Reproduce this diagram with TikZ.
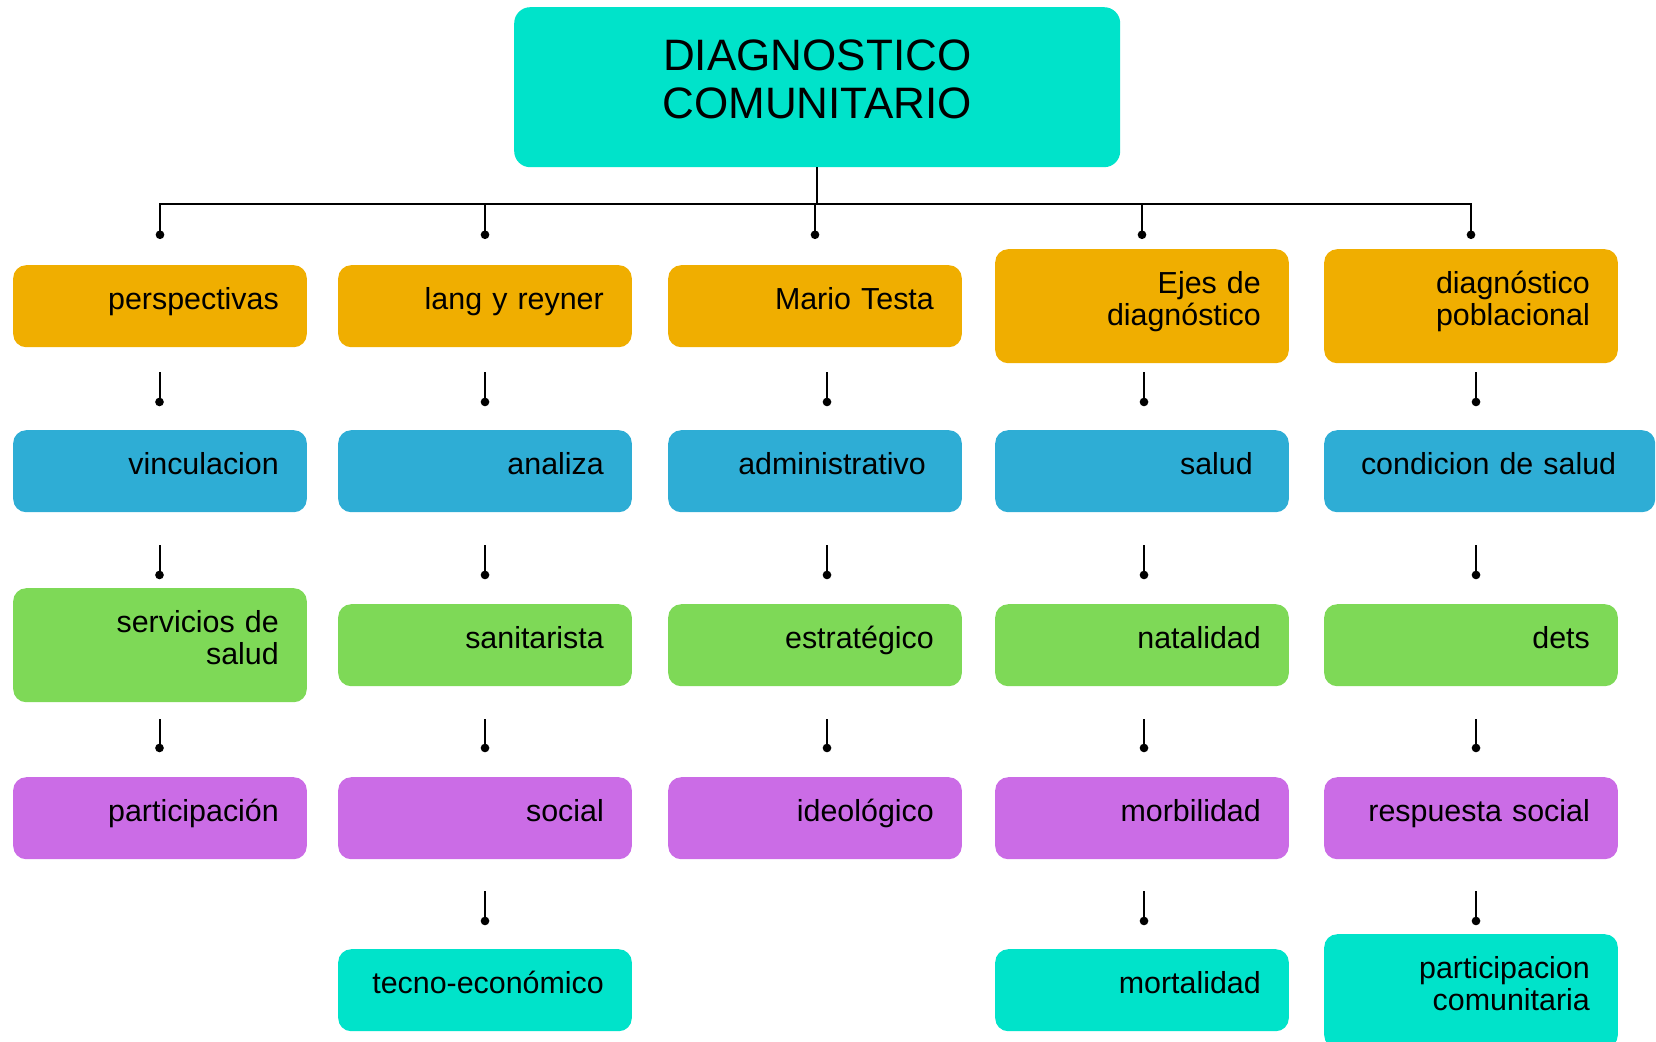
\documentclass[tikz,border=0pt]{standalone}
\usepackage{fontspec}
\setmainfont{Liberation Sans}
\usetikzlibrary{arrows.meta,calc}
\definecolor{corange}{HTML}{F0AE00}
\definecolor{cblue}{HTML}{2EADD5}
\definecolor{cgreen}{HTML}{7ED957}
\definecolor{cpurple}{HTML}{CB6CE6}
\definecolor{ccyan}{HTML}{00E3CA}
\tikzset{
  box/.style={rectangle, rounded corners=13pt, anchor=north west, inner xsep=28pt, inner ysep=0pt,
    minimum height=82pt, text width=237.6pt, align=right,
    font=\fontsize{30.4}{32}\selectfont, text height=22pt, text depth=16pt},
  tallbox/.style={box, minimum height=114pt, text depth=47pt},
  conn/.style={draw=black, line width=2pt, -{Circle[length=8.5pt,width=8.5pt]}},
}
\newcommand\linkdn[5]{\draw[conn, shorten <=#4, shorten >=#5] (#1.south -| #3) -- (#2.north -| #3);}
\begin{document}
\begin{tikzpicture}[x=1pt,y=-1pt]
\useasboundingbox (0,0) rectangle (1656,1041);
% title
\node[rectangle, rounded corners=16pt, fill=ccyan, anchor=north west, inner sep=0pt,
  minimum height=160pt, text width=606pt, align=center,
  font=\fontsize{44}{48}\selectfont, text height=31.5pt, text depth=65pt]
  (root) at (514,7) {DIAGNOSTICO\\COMUNITARIO};
% row 1
\node[box, fill=corange] (p1) at (13,265) {perspectivas};
\node[box, fill=corange] (p2) at (338,265) {lang y reyner};
\node[box, fill=corange] (p3) at (668,265) {Mario Testa};
\node[tallbox, fill=corange] (p4) at (995,249) {Ejes de\\diagnóstico};
\node[tallbox, fill=corange] (p5) at (1324,249) {diagnóstico\\poblacional};
% row 2
\node[box, fill=cblue] (b1) at (13,430) {vinculacion};
\node[box, fill=cblue] (b2) at (338,430) {analiza};
\node[box, fill=cblue] (b3) at (668,430) {administrativo\kern8pt};
\node[box, fill=cblue] (b4) at (995,430) {salud\kern8pt};
\node[box, fill=cblue, text width=275pt] (b5) at (1324,430) {condicion de salud\kern11pt};
% row 3
\node[tallbox, fill=cgreen] (g1) at (13,588) {servicios de\\salud};
\node[box, fill=cgreen] (g2) at (338,604) {sanitarista};
\node[box, fill=cgreen] (g3) at (668,604) {estratégico};
\node[box, fill=cgreen] (g4) at (995,604) {natalidad};
\node[box, fill=cgreen] (g5) at (1324,604) {dets};
% row 4
\node[box, fill=cpurple] (u1) at (13,777) {participación};
\node[box, fill=cpurple] (u2) at (338,777) {social};
\node[box, fill=cpurple] (u3) at (668,777) {ideológico};
\node[box, fill=cpurple] (u4) at (995,777) {morbilidad};
\node[box, fill=cpurple] (u5) at (1324,777) {respuesta social};
% row 5
\node[box, fill=ccyan] (t2) at (338,949) {tecno-económico};
\node[box, fill=ccyan] (t4) at (995,949) {mortalidad};
\node[tallbox, fill=ccyan] (t5) at (1324,934) {participacion\\comunitaria};
% helper coordinates
\coordinate (hub) at (0,204);
\coordinate (dotrow) at (0,239);
\coordinate (k1) at (159.5,0);
\coordinate (k2) at (485,0);
\coordinate (k3) at (827,0);
\coordinate (k4) at (1144,0);
\coordinate (k5) at (1476,0);
% top connectors
\foreach \c in {p1,p2,p3,p4,p5}
  \draw[conn] (root.south) -- (root.south |- hub) -| (\c.north |- dotrow);
% column connectors
\linkdn{p1}{b1}{k1}{25pt}{23.8pt}
\linkdn{p2}{b2}{k2}{25pt}{23.8pt}
\linkdn{p3}{b3}{k3}{25pt}{23.8pt}
\linkdn{p4}{b4}{k4}{9pt}{23.8pt}
\linkdn{p5}{b5}{k5}{9pt}{23.8pt}
\linkdn{b1}{g1}{k1}{33pt}{8.8pt}
\linkdn{b2}{g2}{k2}{33pt}{24.8pt}
\linkdn{b3}{g3}{k3}{33pt}{24.8pt}
\linkdn{b4}{g4}{k4}{33pt}{24.8pt}
\linkdn{b5}{g5}{k5}{33pt}{24.8pt}
\linkdn{g1}{u1}{k1}{17pt}{24.8pt}
\linkdn{g2}{u2}{k2}{33pt}{24.8pt}
\linkdn{g3}{u3}{k3}{33pt}{24.8pt}
\linkdn{g4}{u4}{k4}{33pt}{24.8pt}
\linkdn{g5}{u5}{k5}{33pt}{24.8pt}
\linkdn{u2}{t2}{k2}{32pt}{23.8pt}
\linkdn{u4}{t4}{k4}{32pt}{23.8pt}
\linkdn{u5}{t5}{k5}{32pt}{8.8pt}
\end{tikzpicture}
\end{document}
